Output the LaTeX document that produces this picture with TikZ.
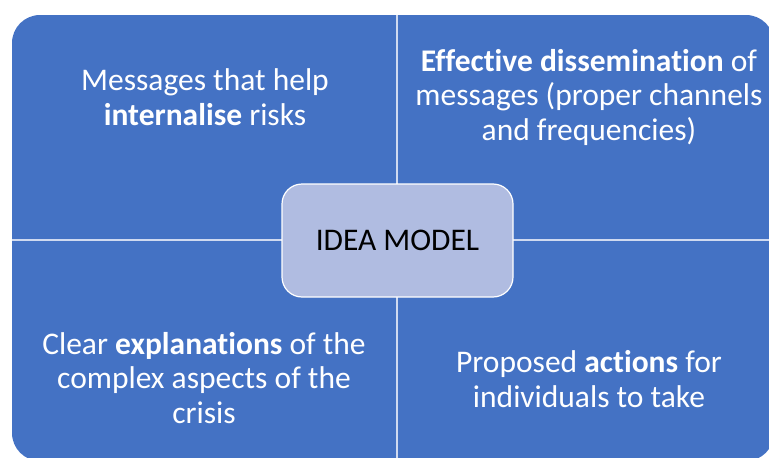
\documentclass[tikz,border=0pt]{standalone}
\usepackage{fontspec}
\setmainfont{Carlito}[Ligatures=NoCommon]
\definecolor{quadblue}{HTML}{4472C4}
\definecolor{hubfill}{HTML}{B0BCE1}
\definecolor{divider}{HTML}{D0DAF0}
\tikzset{
  quadtext/.style={text=white, align=center, inner sep=0pt,
    font=\fontsize{31.5}{34.5}\selectfont},
  hubbox/.style={draw=white, line width=1.2pt, fill=hubfill,
    rounded corners=20pt, minimum width=231pt, minimum height=113pt,
    text=black, font=\fontsize{31.5}{36}\selectfont},
  divline/.style={draw=divider, line width=1.8pt}
}
\begin{document}
\begin{tikzpicture}[x=1pt,y=-1pt]
  \useasboundingbox (0,0) rectangle (769,458);
  % matrix background, cut by the page edge on the right and bottom
  \begin{scope}
    \clip (0,0) rectangle (769,458);
    \fill[quadblue, rounded corners=28pt] (12,15) rectangle (774,461);
  \end{scope}
  % quadrant dividers
  \coordinate (vtop) at (397,15);
  \coordinate (vbot) at (397,461);
  \coordinate (hleft) at (12,240);
  \coordinate (hright) at (774,240);
  \draw[divline] (vtop) -- (vbot);
  \draw[divline] (hleft) -- (hright);
  % centre box
  \node[hubbox] (hub) at (397.5,240.5) {IDEA MODEL};
  % quadrant texts
  \node[quadtext] (tl) at (205,97) {Messages that help\\\textbf{internalise} risks};
  \node[quadtext] (tr) at (589,97) {\textbf{Effective dissemination} of\\messages (proper channels\\and frequencies)};
  \node[quadtext] (bl) at (204,378) {Clear \textbf{explanations} of the\\complex aspects of the\\crisis};
  \node[quadtext] (br) at (589,379) {Proposed \textbf{actions} for\\individuals to take};
\end{tikzpicture}
\end{document}
